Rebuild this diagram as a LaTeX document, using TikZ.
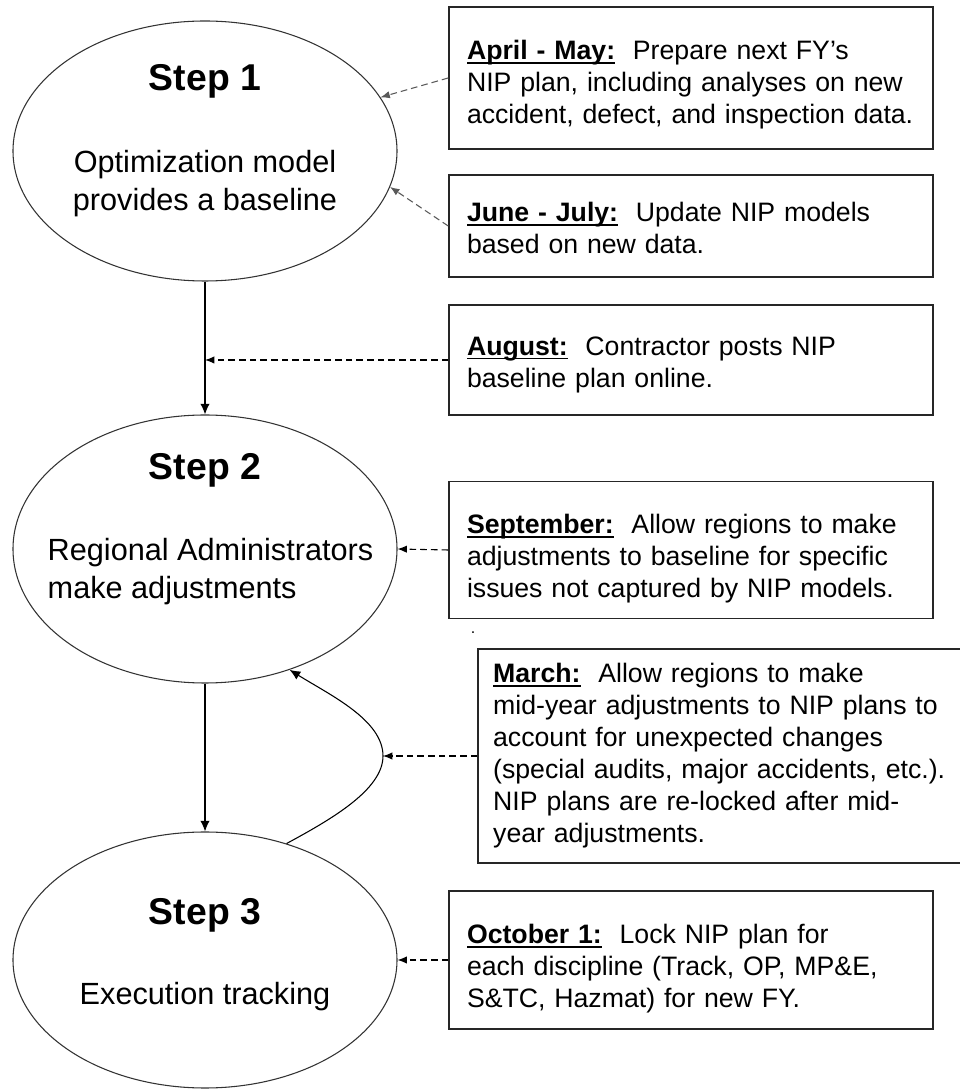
\documentclass[tikz,border=0pt]{standalone}
\usepackage{fontspec}
\setmainfont{Liberation Sans}
\usetikzlibrary{shapes.geometric,arrows.meta}

\newcommand{\monthlbl}[1]{\leavevmode\setbox0=\hbox{\textbf{#1}}\rlap{\rule[-3.2pt]{\wd0}{1.4pt}}\box0}

\tikzset{
  stepell/.style={ellipse, draw=black!80, line width=0.8pt, minimum width=288pt, inner sep=0pt},
  steptitle/.style={font=\fontsize{28}{32}\selectfont\bfseries},
  stepbody/.style={font=\fontsize{23}{28.5}\selectfont, align=center},
  monthbox/.style={draw=black!85, line width=1.2pt, align=left, text width=336pt,
    inner xsep=13.5pt, inner ysep=0pt, font=\fontsize{20}{24}\selectfont},
  toppad/.style={execute at begin node={\rule{0pt}{#1}}},
  flow/.style={line width=0.8pt, -{Latex[length=8pt,width=7pt]}},
  feed/.style={line width=0.8pt, dash pattern=on 5pt off 3pt, -{Latex[length=7pt,width=5.5pt]}},
  feedgray/.style={feed, draw=black!65}
}

\begin{document}
\begin{tikzpicture}[x=0.75pt,y=0.75pt]
\useasboundingbox (0,0) rectangle (960,1090);

% Steps
\node[stepell, minimum height=195pt] (s1) at (205,939) {};
\node[stepell, minimum height=201pt] (s2) at (205,541) {};
\node[stepell, minimum height=192pt] (s3) at (205,130) {};

\node[steptitle] (t1) at (205,1009) {Step 1};
\node[stepbody] (b1) at (205,906) {Optimization model\\provides a baseline};
\node[steptitle] (t2) at (205,620) {Step 2};
\node[stepbody, align=left, anchor=west] (b2) at (43,518) {Regional Administrators\\make adjustments};
\node[steptitle] (t3) at (205,175) {Step 3};
\node[stepbody] (b3) at (205,93) {Execution tracking};

% Timeline boxes
\node[monthbox, toppad=25pt, minimum height=106.5pt] (aprmay) at (691,1012)
  {\monthlbl{April - May:}\ \ Prepare next FY's\\NIP plan, including analyses on new\\accident, defect, and inspection data.};
\node[monthbox, toppad=18pt, minimum height=76.5pt] (junjul) at (691,864)
  {\monthlbl{June - July:}\ \ Update NIP models\\based on new data.};
\node[monthbox, toppad=21pt, minimum height=82.5pt] (aug) at (691,730)
  {\monthlbl{August:}\ \ Contractor posts NIP\\baseline plan online.};
\node[monthbox, toppad=28pt, minimum height=103pt] (sep) at (691,540)
  {\monthlbl{September:}\ \ Allow regions to make\\adjustments to baseline for specific\\issues not captured by NIP models.};
\node[monthbox, minimum height=160.5pt, text width=341pt, inner xsep=11.4pt] (mar) at (720.5,334)
  {\monthlbl{March:}\ \ Allow regions to make\\mid-year adjustments to NIP plans to\\account for unexpected changes\\(special audits, major accidents, etc.).\\NIP plans are re-locked after mid-\\year adjustments.};
\node[monthbox, toppad=28pt, minimum height=103.5pt] (oct1) at (691,130)
  {\monthlbl{October 1:}\ \ Lock NIP plan for\\each discipline (Track, OP, MP\&E,\\S\&TC, Hazmat) for new FY.};
\node[font=\fontsize{12}{14}\selectfont, anchor=base] (dot) at (473,456) {.};

% Flow between steps
\draw[flow] (s1.south) -- (s2.north);
\draw[flow] (s2.south) -- (s3.north);
\coordinate (midyr) at (383,334);
\draw[flow] (s3.55) .. controls (330,270) and (383,300) .. (midyr)
  .. controls (383,370) and (330,395) .. (s2.-55);

% Timeline inputs
\coordinate (augend) at (aug.west -| s1.south);
\draw[feedgray] (aprmay.west) -- (s1.17);
\draw[feedgray] (junjul.west) -- (s1.-11);
\draw[feed] (aug.west) -- (augend);
\draw[feed] (sep.west) -- (s2.east);
\draw[feed] (mar.west) -- (midyr);
\draw[feed] (oct1.west) -- (s3.east);
\end{tikzpicture}
\end{document}
